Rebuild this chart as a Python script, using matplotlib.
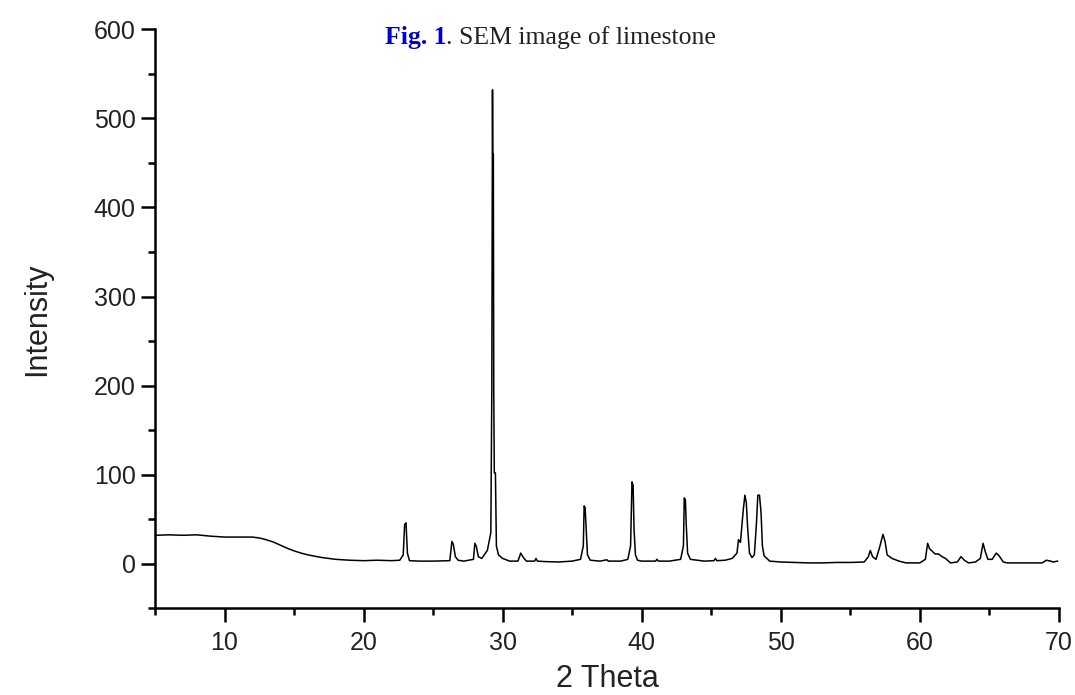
import matplotlib
matplotlib.use('Agg')
import matplotlib.pyplot as plt
from matplotlib.ticker import MultipleLocator

# XRD pattern (2 theta, intensity)
two_theta = [5.0, 6.0, 7.0, 8.0, 9.0, 10.0, 11.0, 12.0, 12.5, 13.0,
             13.5, 14.0, 14.5, 15.0, 15.5, 16.0, 16.5, 17.0, 17.5, 18.0,
             18.5, 19.0, 20.0, 21.0, 22.0, 22.6,
             22.85, 22.95, 23.05, 23.15, 23.3, 24.0, 25.0,
             26.2, 26.35, 26.45, 26.6, 26.8, 27.2,
             27.9, 28.0, 28.1, 28.25, 28.5, 28.9,
             29.15, 29.22, 29.27, 29.29, 29.33, 29.36, 29.4, 29.48, 29.55, 29.7,
             30.0, 30.5, 31.1, 31.3, 31.45, 31.7, 32.3, 32.4, 32.5,
             33.0, 34.0, 35.0, 35.6, 35.8, 35.86, 35.93, 36.0, 36.1, 36.3,
             37.0, 37.5, 37.6, 38.5, 39.0, 39.2, 39.3, 39.38, 39.45, 39.55,
             39.7, 40.0, 41.0, 41.1, 41.2, 42.0, 42.8, 43.0, 43.06, 43.14,
             43.2, 43.3, 43.5, 44.5, 45.2, 45.3, 45.4, 46.0, 46.5, 46.85,
             46.96, 47.1, 47.3, 47.42, 47.52, 47.62, 47.75, 47.93, 48.1, 48.25,
             48.35, 48.47, 48.58, 48.68, 48.8, 49.2, 50.0, 51.0, 52.0, 53.0,
             54.0, 55.0, 56.0, 56.3, 56.44, 56.6, 56.85, 57.1, 57.35, 57.5,
             57.65, 58.0, 58.5, 59.0, 60.0, 60.4, 60.56, 60.7, 60.9, 61.1,
             61.35, 61.6, 61.85, 62.2, 62.7, 62.96, 63.2, 63.5, 64.0, 64.35,
             64.55, 64.7, 64.9, 65.2, 65.5, 65.7, 66.0, 66.3, 67.0, 68.0,
             68.8, 69.1, 69.4, 69.6, 69.9]
intensity = [32, 32.5, 32, 32.5, 31, 30, 30, 30, 29, 27,
             24.5, 21, 17.5, 14.5, 12, 10, 8.5, 7, 6, 5,
             4.5, 4, 3.5, 4, 3.5, 4,
             10, 44, 46, 12, 3.5, 3, 3,
             3.5, 25, 22, 8, 4, 3,
             5, 23, 20, 8, 6, 15,
             35, 195, 532, 460, 460, 195, 102, 102, 20, 10,
             6, 3, 3, 12, 8, 3, 3, 6, 3,
             2.5, 2, 3, 5, 20, 65, 63, 42, 10, 4,
             3, 4.5, 3, 3, 5, 20, 92, 88, 38, 10,
             4, 3, 3, 5, 3, 3, 5, 20, 74, 72,
             45, 12, 5, 3, 3.5, 6, 3.5, 4, 6, 12,
             27, 24, 60, 77, 69, 40, 12, 7, 10, 45,
             77, 77, 58, 20, 9, 3, 2, 1.5, 1, 1,
             1.5, 1.5, 2, 8, 15, 8, 5, 18, 33, 25,
             10, 6, 3, 1, 1, 5, 23, 17, 14, 11,
             11, 8, 6, 1, 2, 8, 4, 1, 2, 6,
             23, 14, 5, 5, 12, 9, 2, 1, 1, 1,
             1, 4, 3, 2, 3]

x_ticks = [10, 20, 30, 40, 50, 60, 70]
y_ticks = [0, 100, 200, 300, 400, 500, 600]

plt.rcParams['font.family'] = ['Liberation Sans', 'DejaVu Sans']

fig = plt.figure(figsize=(10.75, 6.95), dpi=100)
ax = fig.add_axes([0.1442, 0.1247, 0.8408, 0.8332])

ax.plot(two_theta, intensity, color='black', lw=1.1)

ax.set_xlim(5, 70)
ax.set_ylim(-50, 600)
ax.set_xticks(x_ticks)
ax.set_yticks(y_ticks)
ax.xaxis.set_minor_locator(MultipleLocator(5))
ax.yaxis.set_minor_locator(MultipleLocator(50))

for s in ['top', 'right']:
    ax.spines[s].set_visible(False)
for s in ['left', 'bottom']:
    ax.spines[s].set_linewidth(1.8)

ax.tick_params(which='major', direction='out', length=10, width=1.8,
               labelsize=18, labelcolor='#222222')
ax.tick_params(which='minor', direction='out', length=5, width=1.8)
ax.tick_params(axis='x', pad=6)
ax.tick_params(axis='y', pad=4)

ax.set_xlabel('2 Theta', fontsize=22, color='#222222', labelpad=7)
ax.set_ylabel('Intensity', fontsize=22, color='#222222', labelpad=30)

# caption: bold blue part followed by plain text
t1 = fig.text(0.358, 0.937, 'Fig. 1', fontsize=18.5, fontweight='bold',
              color='#0000cc', family='Liberation Serif', va='baseline')
ax.annotate('. SEM image of limestone', xy=(1, 0), xycoords=t1,
            va='bottom', ha='left', fontsize=18.5, color='#222222',
            family='Liberation Serif', annotation_clip=False)

fig.savefig('out.png', dpi=100)
